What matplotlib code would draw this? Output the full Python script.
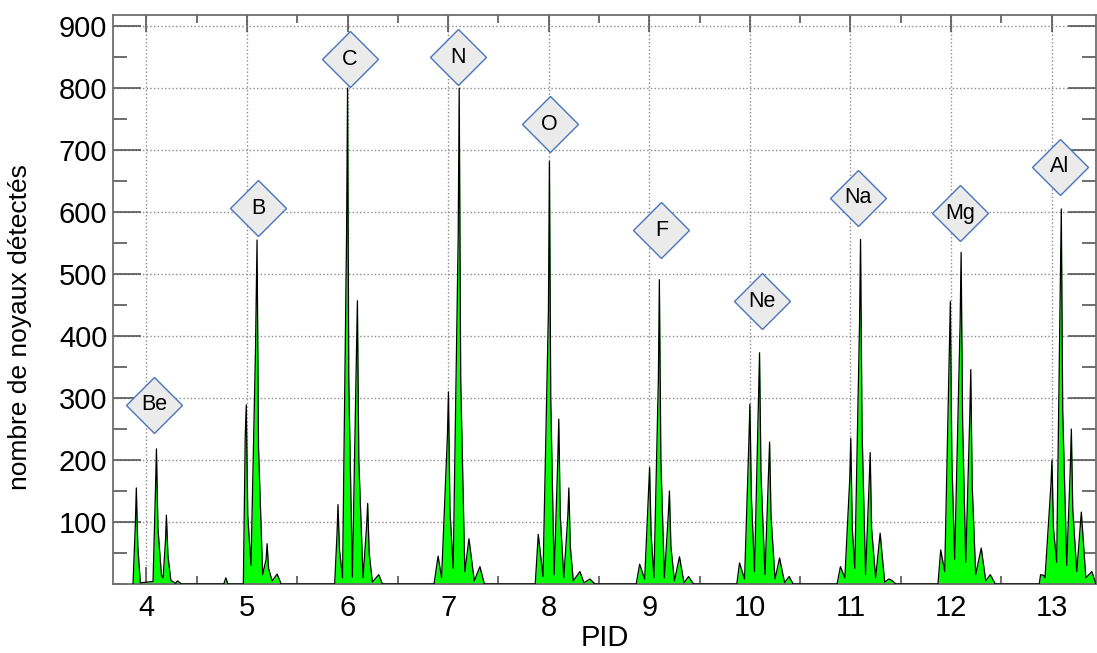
import matplotlib
matplotlib.use("Agg")
import matplotlib.pyplot as plt
from matplotlib.ticker import MultipleLocator

plt.rcParams['font.family'] = ['Liberation Sans', 'DejaVu Sans']

# spectre PID : points (x = PID, y = nombre de noyaux)
be_x = [3.867, 3.890, 3.900, 3.915, 3.940, 4.066, 4.090, 4.100, 4.115, 4.150, 4.166, 4.190, 4.199, 4.215, 4.243, 4.290, 4.309, 4.349]
be_y = [0, 95, 155, 60, 2, 4, 150, 218, 90, 14, 10, 70, 111, 45, 6, 1, 5, 0]
b_x = [4.770, 4.790, 4.810, 4.964, 4.983, 4.993, 5.008, 5.040, 5.085, 5.100, 5.115, 5.156, 5.190, 5.200, 5.215, 5.250, 5.300, 5.340]
b_y = [0, 10, 0, 0, 240, 289, 110, 30, 380, 555, 220, 15, 40, 65, 25, 5, 16, 0]
c_x = [5.872, 5.895, 5.905, 5.920, 5.950, 5.990, 6.000, 6.012, 6.048, 6.088, 6.098, 6.112, 6.154, 6.190, 6.200, 6.215, 6.247, 6.310, 6.346]
c_y = [0, 80, 128, 55, 10, 560, 800, 330, 11, 370, 457, 200, 10, 95, 130, 50, 3, 15, 0]
n_x = [6.860, 6.900, 6.935, 6.993, 7.003, 7.018, 7.050, 7.100, 7.110, 7.125, 7.166, 7.207, 7.260, 7.316, 7.360]
n_y = [0, 45, 10, 240, 310, 120, 25, 560, 800, 330, 20, 73, 5, 28, 0]
o_x = [7.866, 7.896, 7.943, 7.997, 8.007, 8.020, 8.054, 8.090, 8.100, 8.115, 8.150, 8.190, 8.200, 8.215, 8.244, 8.310, 8.350, 8.410, 8.460]
o_y = [0, 80, 12, 440, 682, 300, 15, 200, 266, 110, 10, 110, 155, 60, 5, 20, 2, 8, 0]
f_x = [8.870, 8.904, 8.954, 8.993, 9.003, 9.018, 9.046, 9.090, 9.100, 9.115, 9.150, 9.190, 9.200, 9.215, 9.250, 9.300, 9.345, 9.390, 9.440]
f_y = [0, 32, 8, 150, 188, 80, 10, 330, 491, 200, 10, 115, 150, 60, 5, 44, 2, 12, 0]
ne_x = [9.870, 9.897, 9.947, 9.990, 10.000, 10.015, 10.046, 10.086, 10.096, 10.110, 10.150, 10.186, 10.196, 10.210, 10.250, 10.295, 10.345, 10.390, 10.430]
ne_y = [0, 34, 8, 230, 290, 140, 20, 300, 373, 180, 15, 180, 229, 110, 8, 42, 2, 12, 0]
na_x = [10.867, 10.900, 10.944, 10.993, 11.003, 11.018, 11.043, 11.090, 11.100, 11.115, 11.150, 11.186, 11.196, 11.210, 11.250, 11.295, 11.340, 11.380, 11.410, 11.450]
na_y = [0, 28, 10, 170, 235, 90, 25, 420, 556, 250, 15, 165, 212, 90, 10, 82, 3, 8, 6, 0]
mg_x = [11.870, 11.897, 11.937, 11.983, 11.993, 12.008, 12.036, 12.090, 12.100, 12.115, 12.146, 12.186, 12.196, 12.210, 12.245, 12.300, 12.345, 12.390, 12.440]
mg_y = [0, 55, 20, 375, 456, 200, 40, 420, 535, 260, 35, 270, 346, 160, 15, 58, 5, 15, 0]
al_x = [12.877, 12.890, 12.920, 12.934, 12.993, 13.003, 13.018, 13.050, 13.086, 13.096, 13.110, 13.150, 13.186, 13.196, 13.210, 13.250, 13.295, 13.340, 13.400, 13.440]
al_y = [0, 15, 14, 10, 160, 200, 90, 35, 480, 605, 280, 30, 190, 250, 120, 20, 116, 10, 20, 0]

# etiquettes des elements
elements = ['Be', 'B', 'C', 'N', 'O', 'F', 'Ne', 'Na', 'Mg', 'Al']
lab_x = [4.08, 5.11, 6.02, 7.10, 8.01, 9.12, 10.12, 11.07, 12.09, 13.08]
lab_y = [289, 606, 847, 850, 742, 571, 456, 623, 598, 673]

xs = be_x + b_x + c_x + n_x + o_x + f_x + ne_x + na_x + mg_x + al_x
ys = be_y + b_y + c_y + n_y + o_y + f_y + ne_y + na_y + mg_y + al_y

fig = plt.figure(figsize=(10.97, 6.53), dpi=100)
ax = fig.add_axes([0.103, 0.1057, 0.896, 0.8713])

ax.fill_between(xs, 0, ys, color='#00ff00', lw=0, zorder=2)
ax.plot(xs, ys, color='black', lw=0.9, zorder=3)

ax.plot(lab_x, lab_y, 'D', ms=28.5, mfc='#ebebeb', mec='#4a74bd', mew=1.0, zorder=4)
for el, x, y in zip(elements, lab_x, lab_y):
    ax.text(x, y, el, ha='center', va='center', fontsize=15.5, zorder=5)

ax.set_xlim(3.668, 13.44)
ax.set_ylim(0, 918)
ax.set_xticks(range(4, 14))
ax.set_yticks(range(100, 1000, 100))
ax.xaxis.set_minor_locator(MultipleLocator(0.5))
ax.yaxis.set_minor_locator(MultipleLocator(50))

ax.grid(True, which='major', ls=':', color='#8c8c8c', lw=1)
ax.set_axisbelow(True)
for s in ax.spines.values():
    s.set_color('#6e6e6e')
    s.set_linewidth(1.3)

ax.tick_params(which='both', direction='in', top=True, right=True, color='#555555', labelsize=21)
ax.tick_params(axis='y', which='major', length=20, width=1.2, pad=4)
ax.tick_params(axis='y', which='minor', length=10, width=1.2)
ax.tick_params(axis='x', which='major', length=12, width=1.2, pad=7)
ax.tick_params(axis='x', which='minor', length=6, width=1.2)

ax.set_xlabel('PID', fontsize=21, labelpad=2)
ax.set_ylabel('nombre de noyaux détectés', fontsize=19)
ax.yaxis.set_label_coords(-0.082, 0.452)

fig.savefig('out.png', dpi=100)
